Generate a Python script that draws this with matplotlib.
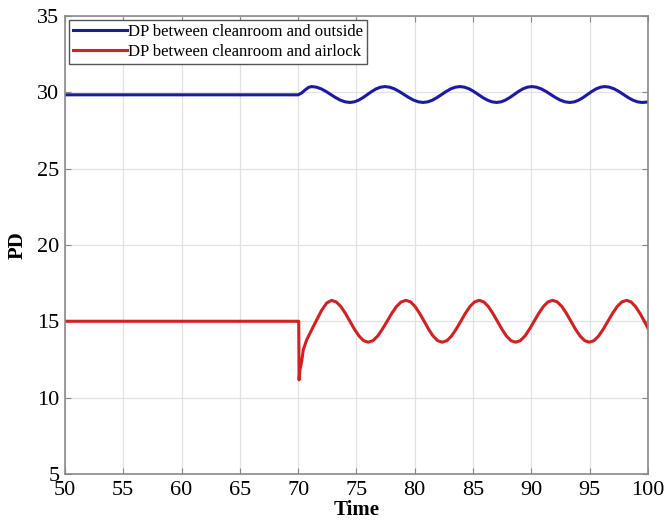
import matplotlib
matplotlib.use("Agg")
import matplotlib.pyplot as plt

# Blue series: DP between cleanroom and outside
t_out = [50, 70, 70.3, 70.6, 70.9, 71.16,
         71.57, 71.98, 72.39, 72.80, 73.21, 73.62, 74.03, 74.44,
         74.82, 75.19, 75.57, 75.94, 76.32, 76.69, 77.07, 77.44,
         77.85, 78.26, 78.67, 79.08, 79.50, 79.91, 80.32, 80.73,
         81.12, 81.52, 81.91, 82.31, 82.70, 83.09, 83.49, 83.88,
         84.27, 84.67, 85.06, 85.45, 85.84, 86.24, 86.63, 87.02,
         87.40, 87.77, 88.15, 88.53, 88.90, 89.28, 89.65, 90.03,
         90.44, 90.85, 91.26, 91.67, 92.08, 92.49, 92.90, 93.31,
         93.69, 94.06, 94.44, 94.81, 95.19, 95.56, 95.94, 96.31,
         96.71, 97.11, 97.51, 97.91, 98.31, 98.71, 99.11, 99.5, 100]
dp_out = [29.83, 29.83, 29.95, 30.15, 30.32, 30.37,
          30.33, 30.22, 30.05, 29.85, 29.65, 29.48, 29.37, 29.33,
          29.37, 29.48, 29.65, 29.85, 30.05, 30.22, 30.33, 30.37,
          30.33, 30.22, 30.05, 29.85, 29.65, 29.48, 29.37, 29.33,
          29.37, 29.48, 29.65, 29.85, 30.05, 30.22, 30.33, 30.37,
          30.33, 30.22, 30.05, 29.85, 29.65, 29.48, 29.37, 29.33,
          29.37, 29.48, 29.65, 29.85, 30.05, 30.22, 30.33, 30.37,
          30.33, 30.22, 30.05, 29.85, 29.65, 29.48, 29.37, 29.33,
          29.37, 29.48, 29.65, 29.85, 30.05, 30.22, 30.33, 30.37,
          30.33, 30.22, 30.05, 29.85, 29.65, 29.48, 29.37, 29.33, 29.36]

# Red series: DP between cleanroom and airlock
t_air = [50, 70, 70.05, 70.08, 70.15, 70.3, 70.44, 70.73, 71.16, 71.59, 72.0, 72.45, 72.87,
         73.26, 73.66, 74.05, 74.44, 74.83, 75.23, 75.62, 76.01,
         76.41, 76.82, 77.22, 77.63, 78.03, 78.44, 78.84, 79.25,
         79.64, 80.03, 80.42, 80.81, 81.19, 81.58, 81.97, 82.36,
         82.76, 83.15, 83.55, 83.95, 84.34, 84.74, 85.13, 85.53,
         85.92, 86.31, 86.70, 87.09, 87.48, 87.87, 88.26, 88.65,
         89.05, 89.45, 89.84, 90.24, 90.64, 91.04, 91.43, 91.83,
         92.22, 92.62, 93.01, 93.40, 93.79, 94.19, 94.58, 94.97,
         95.37, 95.77, 96.17, 96.57, 96.97, 97.37, 97.77, 98.17,
         98.55, 98.93, 99.32, 99.7, 100]
dp_air = [15.0, 15.0, 15.0, 11.16, 11.8, 12.36, 13.13, 13.78, 14.44, 15.09, 15.7, 16.2, 16.37,
          16.27, 15.97, 15.52, 15.0, 14.48, 14.03, 13.73, 13.63,
          13.73, 14.03, 14.48, 15.0, 15.52, 15.97, 16.27, 16.37,
          16.27, 15.97, 15.52, 15.0, 14.48, 14.03, 13.73, 13.63,
          13.73, 14.03, 14.48, 15.0, 15.52, 15.97, 16.27, 16.37,
          16.27, 15.97, 15.52, 15.0, 14.48, 14.03, 13.73, 13.63,
          13.73, 14.03, 14.48, 15.0, 15.52, 15.97, 16.27, 16.37,
          16.27, 15.97, 15.52, 15.0, 14.48, 14.03, 13.73, 13.63,
          13.73, 14.03, 14.48, 15.0, 15.52, 15.97, 16.27, 16.37,
          16.27, 15.97, 15.52, 15.0, 14.55]

x_ticks = [50, 55, 60, 65, 70, 75, 80, 85, 90, 95, 100]
y_ticks = [5, 10, 15, 20, 25, 30, 35]

plt.rcParams['font.family'] = ['Liberation Serif', 'DejaVu Serif']

fig = plt.figure(figsize=(6.7, 5.29), dpi=100)
ax = fig.add_axes([0.097, 0.104, 0.870, 0.866])

ax.plot(t_out, dp_out, color='#1a1aa8', lw=2.2, label='DP between cleanroom and outside')
ax.plot(t_air, dp_air, color='#d42020', lw=2.2, label='DP between cleanroom and airlock')

ax.set_xlim(50, 100)
ax.set_ylim(5, 35)
ax.set_xticks(x_ticks)
ax.set_yticks(y_ticks)
ax.grid(True, color='#e2e2e2', lw=0.9)
ax.set_axisbelow(True)
ax.tick_params(direction='in', top=True, right=True, length=4, color='#888888',
               labelsize=16)
ax.tick_params(axis='x', pad=5)
ax.tick_params(axis='y', pad=4)
for s in ax.spines.values():
    s.set_color('#8a8a8a')
    s.set_linewidth(1.2)

ax.set_xlabel('Time', fontsize=15, fontweight='bold', labelpad=0)
ax.set_ylabel('PD', fontsize=15, fontweight='bold', labelpad=7)

leg = ax.legend(loc='upper left', fontsize=12, frameon=True, fancybox=False,
                edgecolor='#555555', framealpha=1, borderpad=0.25, handlelength=3.2,
                handletextpad=0.1, labelspacing=0.2, borderaxespad=0.25)
leg.get_frame().set_linewidth(1.0)

fig.savefig('out.png', dpi=100)
